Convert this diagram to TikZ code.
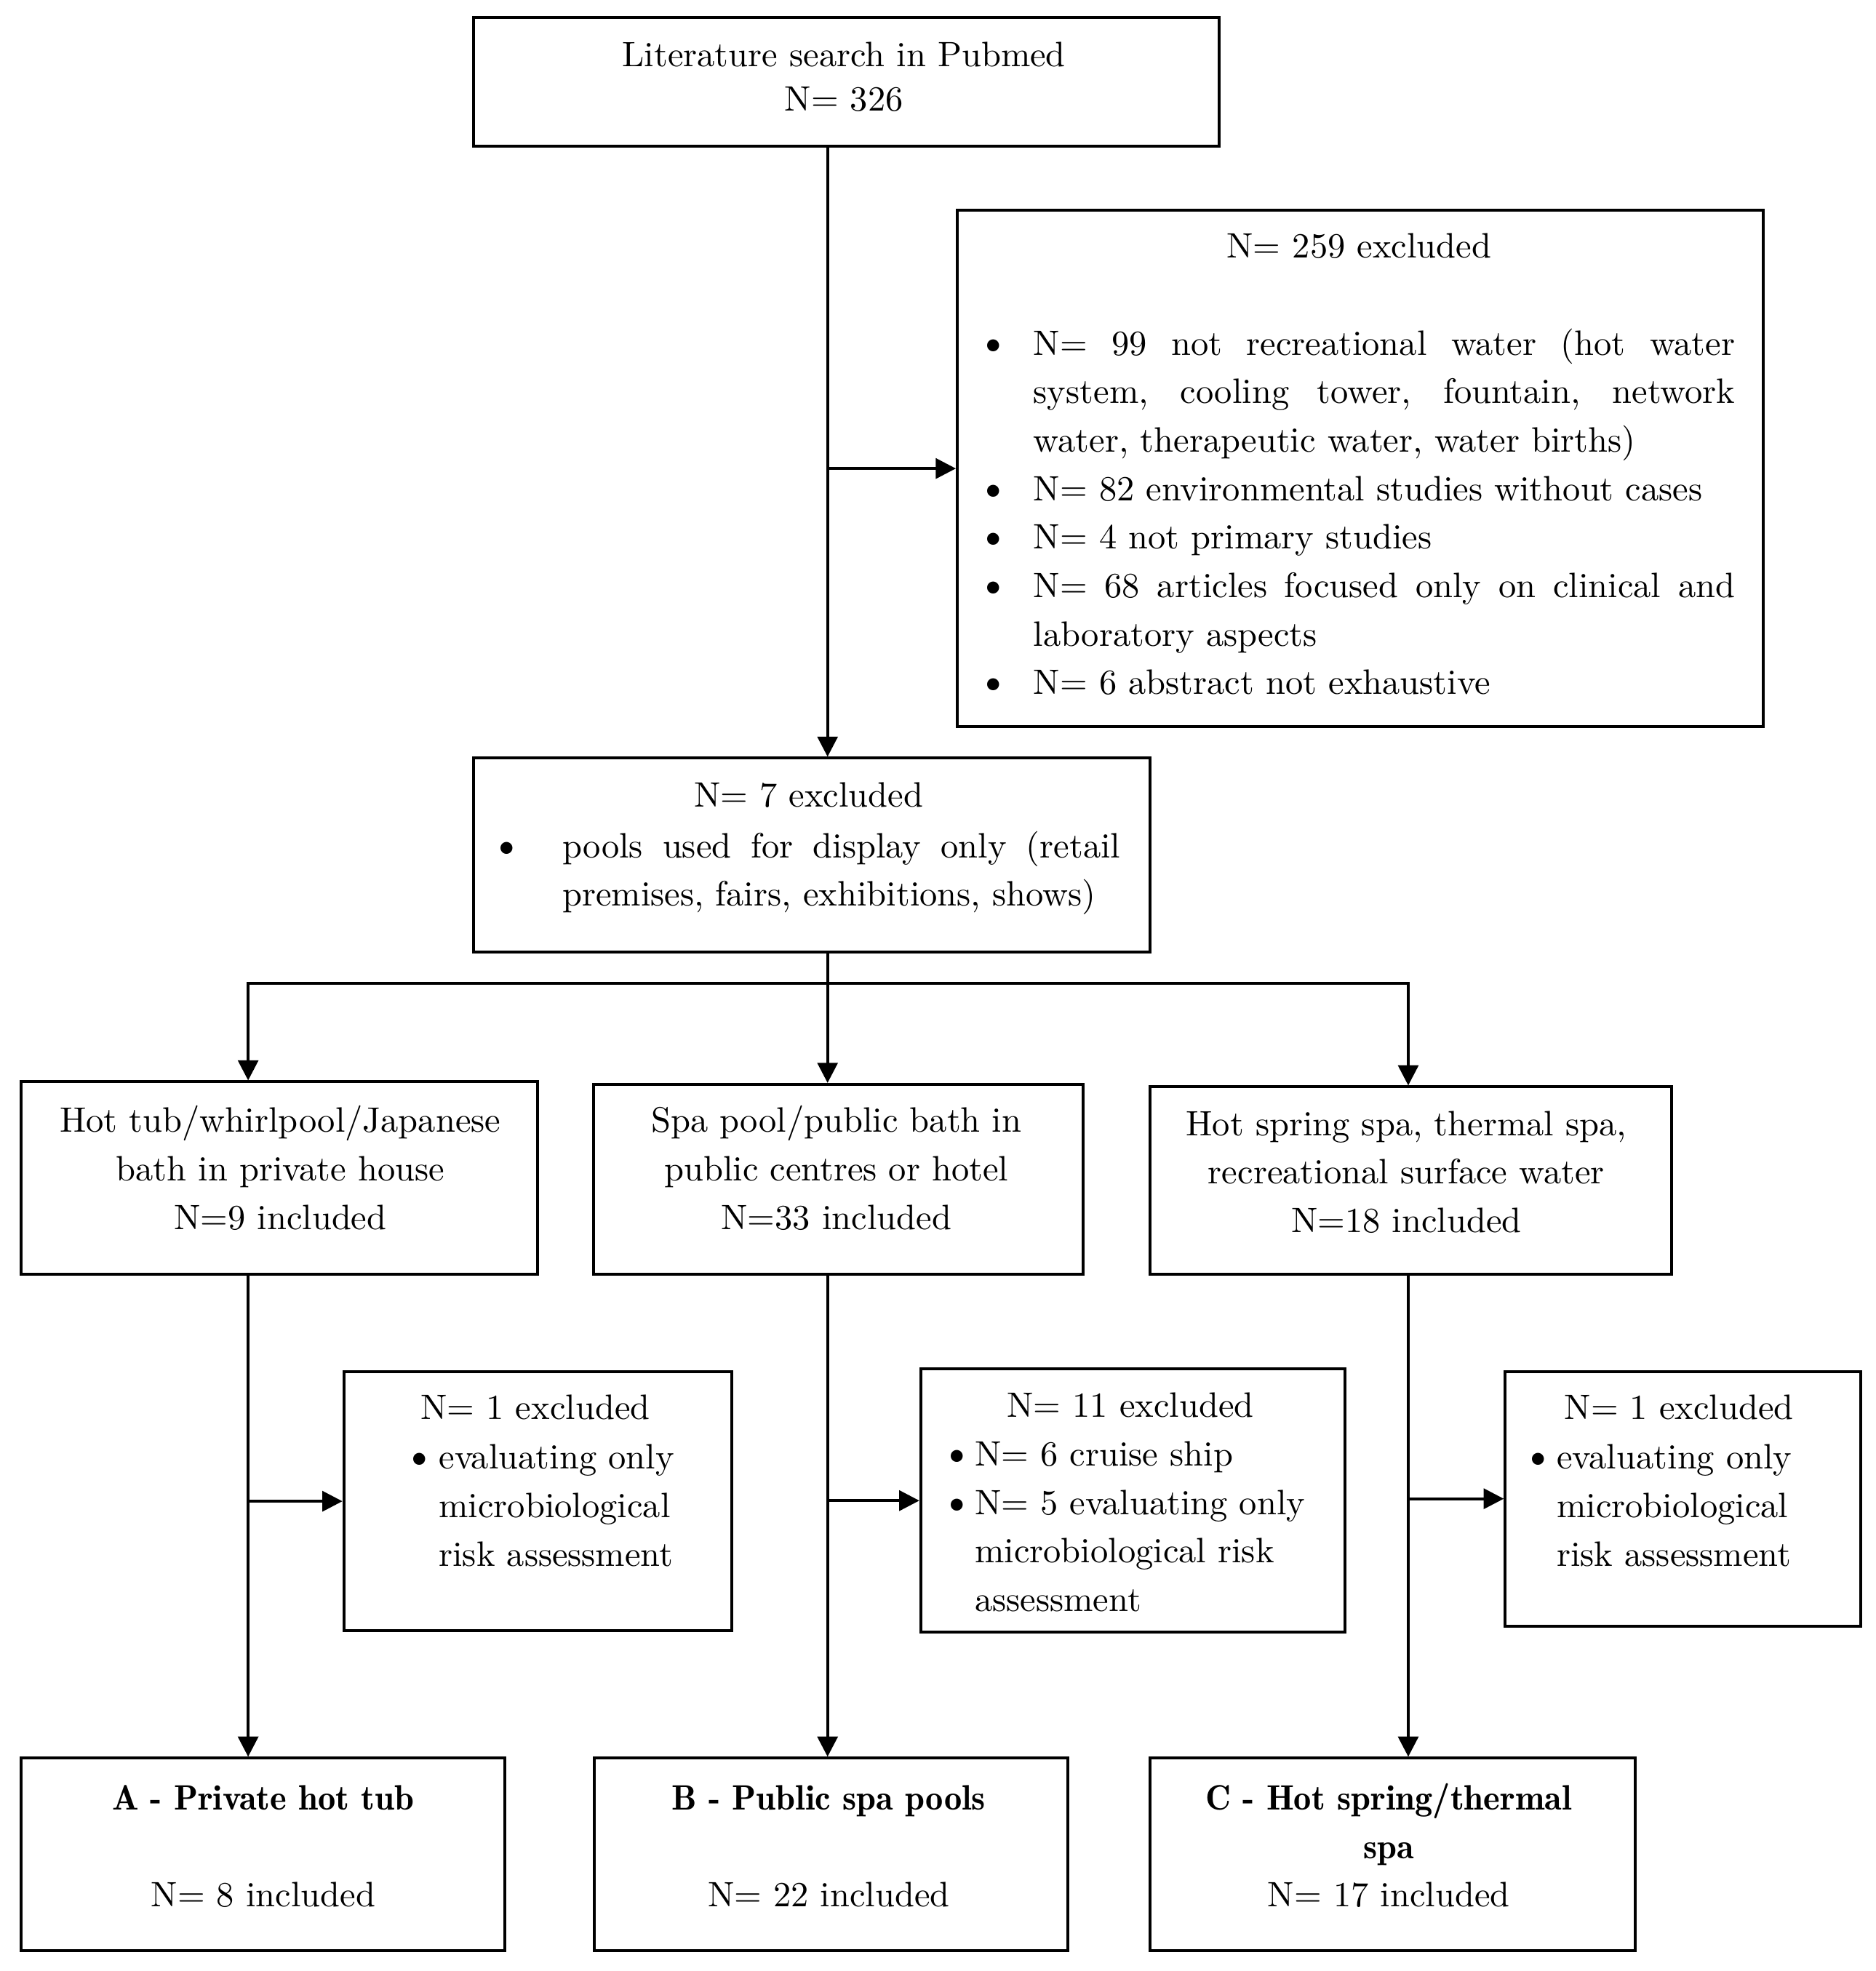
\documentclass[tikz,border=0pt]{standalone}
\usepackage{fontspec}
\setmainfont{lmroman10-regular.otf}[BoldFont=lmromandemi10-regular.otf]
\newfontfamily\demifam{lmromandemi10-regular.otf}
\usetikzlibrary{arrows.meta}
\newcommand\mybul[3]{\par\noindent\hangindent=#1\relax\hangafter=1\relax\makebox[#1][l]{\hspace*{#2}\makebox[0pt]{{\fontsize{33}{33}\selectfont\textbullet}}}#3}
\newcommand\mybf[1]{{\demifam #1}}
\newcommand\mysetup{\fontsize{28}{38.5}\selectfont\hyphenpenalty=10000\relax\exhyphenpenalty=10000\relax\tolerance=10000\relax}
\begin{document}
\begin{tikzpicture}[x=1pt,y=-1pt,
  box/.style={draw, line width=2.3pt, rectangle, inner sep=0pt},
  txt/.style={inner sep=0pt, anchor=base, font=\mysetup},
  arr/.style={line width=2.3pt, -{Triangle[length=16pt,width=16pt]}},
  ln/.style={line width=2.3pt}]
\useasboundingbox (0,0) rectangle (1489,1565);
% boxes
\node[box, minimum width=592pt, minimum height=102pt] (top) at (672,65) {};
\node[box, minimum width=640pt, minimum height=410pt] (big) at (1080,372) {};
\node[box, minimum width=537pt, minimum height=154pt] (ex7) at (644.5,679) {};
\node[box, minimum width=410pt, minimum height=153pt] (A1) at (222,935.5) {};
\node[box, minimum width=389pt, minimum height=151pt] (B1) at (665.5,936.5) {};
\node[box, minimum width=414pt, minimum height=149pt] (C1) at (1120,937.5) {};
\node[box, minimum width=308pt, minimum height=206pt] (A2) at (427,1192) {};
\node[box, minimum width=337pt, minimum height=209pt] (B2) at (899.5,1191.5) {};
\node[box, minimum width=282pt, minimum height=202pt] (C2) at (1336,1190) {};
\node[box, minimum width=384pt, minimum height=153pt] (A3) at (209,1472.5) {};
\node[box, minimum width=376pt, minimum height=153pt] (B3) at (660,1472.5) {};
\node[box, minimum width=385pt, minimum height=153pt] (C3) at (1105.5,1472.5) {};
% texts
\node[txt] (topt) at (670,53) {\parbox[t]{560pt}{\centering\fontsize{28}{35}\selectfont Literature search in Pubmed\\ N= 326}};
\node[txt] (bigt) at (1079,205) {N= 259 excluded};
\node[txt] (bigl) at (1076,282) {\parbox[t]{603pt}{%
\mybul{46pt}{14pt}{N= 99 not recreational water (hot water\linebreak system, cooling tower, fountain, network\linebreak water, therapeutic water, water births)}%
\mybul{46pt}{14pt}{N= 82 environmental studies without cases}%
\mybul{46pt}{14pt}{N= 4 not primary studies}%
\mybul{46pt}{14pt}{N= 68 articles focused only on clinical and\linebreak laboratory aspects}%
\mybul{46pt}{14pt}{N= 6 abstract not exhaustive}}};
\node[txt] (ex7t) at (642,641) {N= 7 excluded};
\node[txt] (ex7l) at (639,681) {\parbox[t]{501pt}{\mybul{58pt}{14pt}{pools used for display only (retail\linebreak premises, fairs, exhibitions, shows)}}};
\node[txt] (A1t) at (222.5,899) {\parbox[t]{400pt}{\centering Hot tub/whirlpool/Japanese\\ bath in private house\\ N=9 included}};
\node[txt] (B1t) at (664,899) {\parbox[t]{380pt}{\centering Spa pool/public bath in\\ public centres or hotel\\ N=33 included}};
\node[txt] (C1t) at (1116.5,901.5) {\parbox[t]{405pt}{\centering Hot spring spa, thermal spa,\\ recreational surface water\\ N=18 included}};
\node[txt] (A2t) at (425,1127) {N= 1 excluded};
\node[txt] (A2l) at (439,1166.5) {\parbox[t]{240pt}{\raggedright\mybul{29.5pt}{14pt}{evaluating only\newline microbiological\newline risk assessment}}};
\node[txt] (B2t) at (897.5,1125) {N= 11 excluded};
\node[txt] (B2l) at (897.5,1164) {\parbox[t]{303pt}{\raggedright\mybul{28pt}{13.7pt}{N= 6 cruise ship}\mybul{28pt}{13.7pt}{N= 5 evaluating only\newline microbiological risk\newline assessment}}};
\node[txt] (C2t) at (1333,1127) {N= 1 excluded};
\node[txt] (C2l) at (1337,1166.5) {\parbox[t]{260pt}{\raggedright\mybul{29pt}{14.5pt}{evaluating only\newline microbiological\newline risk assessment}}};
\node[txt] (A3t) at (209,1437) {\parbox[t]{375pt}{\centering\mybf{A - Private hot tub}\\[38.5pt] N= 8 included}};
\node[txt] (B3t) at (658,1437) {\parbox[t]{366pt}{\centering\mybf{B - Public spa pools}\\[38.5pt] N= 22 included}};
\node[txt] (C3t) at (1102.5,1437) {\parbox[t]{375pt}{\centering\mybf{C - Hot spring/thermal}\\ \mybf{spa}\\ N= 17 included}};
% connector coordinates
\coordinate (xa) at (197,0);
\coordinate (xb) at (657,0);
\coordinate (xc) at (1118,0);
\coordinate (split) at (0,781);
% connectors
\draw[arr] (top.south -| xb) -- (ex7.north -| xb);
\draw[arr] (xb |- big.west) -- (big.west);
\draw[arr] (ex7.south -| xb) -- (B1.north -| xb);
\draw[arr] (xb |- split) -- (xa |- split) -- (A1.north -| xa);
\draw[arr] (xb |- split) -- (xc |- split) -- (C1.north -| xc);
\draw[arr] (A1.south -| xa) -- (A3.north -| xa);
\draw[arr] (xa |- A2.west) -- (A2.west);
\draw[arr] (B1.south -| xb) -- (B3.north -| xb);
\draw[arr] (xb |- B2.west) -- (B2.west);
\draw[arr] (C1.south -| xc) -- (C3.north -| xc);
\draw[arr] (xc |- C2.west) -- (C2.west);
\end{tikzpicture}
\end{document}
